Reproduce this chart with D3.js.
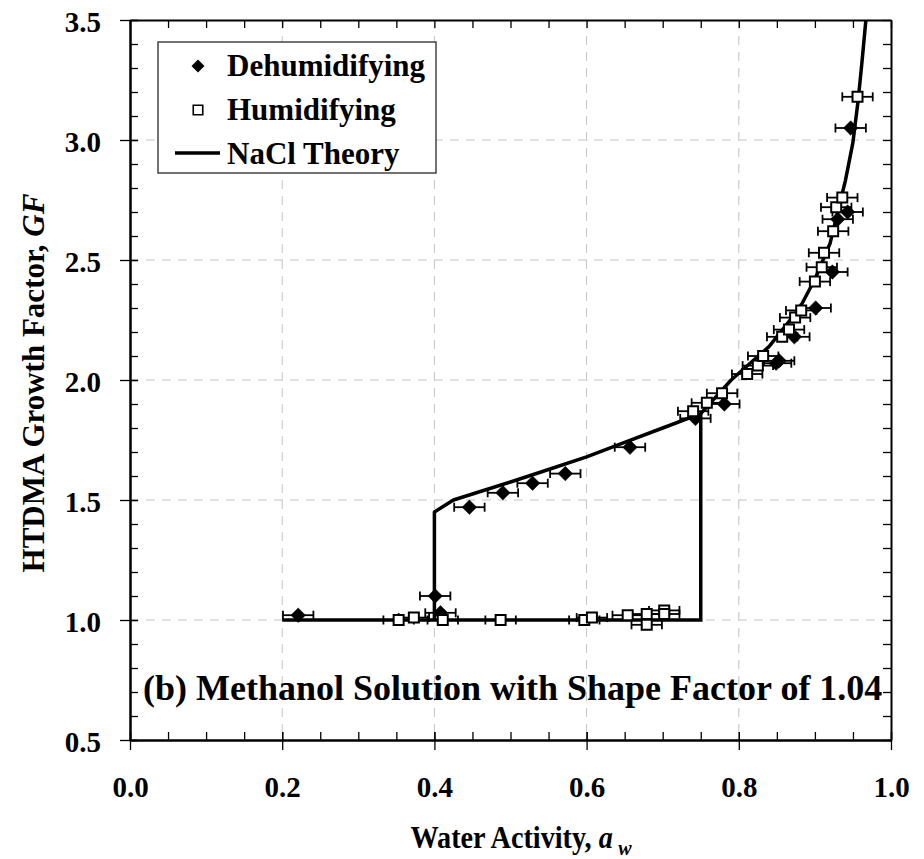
<!DOCTYPE html>
<html>
<head>
<meta charset="utf-8">
<script src="https://cdn.jsdelivr.net/npm/d3@7/dist/d3.min.js"></script>
<style>
  body { margin: 0; background: #fff; }
</style>
</head>
<body>
<div id="chart"></div>
<script>
// dehumidifying branch (filled diamonds)
const dehumAw = [0.221, 0.401, 0.408, 0.446, 0.490, 0.529, 0.572, 0.657, 0.743, 0.781,
                 0.849, 0.853, 0.873, 0.901, 0.923, 0.930, 0.943, 0.947];
const dehumGF = [1.02, 1.10, 1.03, 1.47, 1.53, 1.57, 1.61, 1.72, 1.84, 1.90,
                 2.07, 2.08, 2.18, 2.30, 2.45, 2.67, 2.70, 3.05];

// humidifying branch (open squares)
const humAw = [0.353, 0.373, 0.411, 0.487, 0.597, 0.607, 0.654, 0.679, 0.679, 0.702, 0.702,
               0.740, 0.758, 0.778, 0.811, 0.825, 0.832, 0.857, 0.866, 0.874, 0.882,
               0.900, 0.909, 0.912, 0.924, 0.928, 0.936, 0.956];
const humGF = [1.00, 1.01, 1.00, 1.00, 1.00, 1.01, 1.02, 1.025, 0.98, 1.04, 1.025,
               1.87, 1.905, 1.945, 2.025, 2.06, 2.10, 2.18, 2.21, 2.26, 2.29,
               2.41, 2.47, 2.53, 2.62, 2.72, 2.76, 3.18];

const awError = 0.02;

// NaCl theory: efflorescence branch + solution curve
const theoryAw = [0.40, 0.40, 0.425, 0.45, 0.50, 0.55, 0.60, 0.65, 0.70, 0.75, 0.79, 0.84,
                  0.88, 0.90, 0.92, 0.94, 0.95, 0.957, 0.962, 0.967, 0.972];
const theoryGF = [1.00, 1.45, 1.50, 1.525, 1.575, 1.627, 1.68, 1.74, 1.80, 1.86, 2.00, 2.14,
                  2.30, 2.42, 2.57, 2.83, 2.99, 3.17, 3.33, 3.50, 3.70];
// deliquescence branch
const delqAw = [0.20, 0.75, 0.75];
const delqGF = [1.00, 1.00, 1.86];

const xTicks = [0.0, 0.2, 0.4, 0.6, 0.8, 1.0];
const yTicks = [0.5, 1.0, 1.5, 2.0, 2.5, 3.0, 3.5];

const W = 924, H = 859;
const mLeft = 130, mRight = 891, mTop = 20, mBottom = 740;
const font = "'Liberation Serif', 'Times New Roman', serif";

const x = d3.scaleLinear().domain([0, 1]).range([mLeft, mRight]);
const y = d3.scaleLinear().domain([0.5, 3.5]).range([mBottom, mTop]);

const svg = d3.select("#chart").append("svg")
  .attr("width", W).attr("height", H)
  .style("font-family", font).style("font-weight", "bold");

svg.append("clipPath").attr("id", "plotClip")
  .append("rect").attr("x", mLeft).attr("y", mTop)
  .attr("width", mRight - mLeft).attr("height", mBottom - mTop);

// gridlines
svg.append("g").selectAll("line")
  .data(xTicks.slice(1, -1)).enter().append("line")
  .attr("x1", d => x(d)).attr("x2", d => x(d))
  .attr("y1", mTop).attr("y2", mBottom)
  .attr("stroke", "#c4c4c4").attr("stroke-width", 1).attr("stroke-dasharray", "9,7");
svg.append("g").selectAll("line")
  .data(yTicks.slice(1, -1)).enter().append("line")
  .attr("y1", d => y(d)).attr("y2", d => y(d))
  .attr("x1", mLeft).attr("x2", mRight)
  .attr("stroke", "#c4c4c4").attr("stroke-width", 1).attr("stroke-dasharray", "9,7");

// axes
const fmt = d3.format(".1f");
const minorX = d3.range(0, 1.0001, 0.05);
const minorY = d3.range(0.5, 3.5001, 0.1);

function styleAxis(g) {
  g.select(".domain").attr("stroke", "#000").attr("stroke-width", 2);
  g.selectAll(".tick line").attr("stroke", "#000").attr("stroke-width", 1.3);
}

svg.append("g").attr("transform", `translate(0,${mTop})`)
  .call(d3.axisTop(x).tickValues(minorX).tickFormat("").tickSizeInner(-8).tickSizeOuter(0))
  .call(styleAxis);
svg.append("g").attr("transform", `translate(${mRight},0)`)
  .call(d3.axisRight(y).tickValues(minorY).tickFormat("").tickSizeInner(-8).tickSizeOuter(0))
  .call(styleAxis);

svg.append("g").attr("transform", `translate(0,${mBottom})`)
  .call(d3.axisBottom(x).tickValues(minorX).tickFormat("").tickSizeInner(-8).tickSizeOuter(0))
  .call(styleAxis);
const xAxis = svg.append("g").attr("transform", `translate(0,${mBottom})`)
  .call(d3.axisBottom(x).tickValues(xTicks).tickFormat(fmt).tickSizeInner(10).tickSizeOuter(0))
  .call(styleAxis);
xAxis.selectAll(".tick line").attr("y1", -8);
xAxis.selectAll(".tick text").attr("y", 57).attr("dy", 0)
  .attr("fill", "#000").style("font-family", font).style("font-size", "29px").style("font-weight", "bold");

svg.append("g").attr("transform", `translate(${mLeft},0)`)
  .call(d3.axisLeft(y).tickValues(minorY).tickFormat("").tickSizeInner(-8).tickSizeOuter(0))
  .call(styleAxis);
const yAxis = svg.append("g").attr("transform", `translate(${mLeft},0)`)
  .call(d3.axisLeft(y).tickValues(yTicks).tickFormat(fmt).tickSizeInner(10).tickSizeOuter(0))
  .call(styleAxis);
yAxis.selectAll(".tick line").attr("x1", 8);
yAxis.selectAll(".tick text").attr("x", -29).attr("dy", "0.38em")
  .attr("fill", "#000").style("font-family", font).style("font-size", "29px").style("font-weight", "bold");

// theory lines
const plot = svg.append("g").attr("clip-path", "url(#plotClip)");
const line = d3.line().x(d => x(d[0])).y(d => y(d[1]));
plot.append("path")
  .datum(delqAw.map((a, i) => [a, delqGF[i]]))
  .attr("d", line).attr("fill", "none").attr("stroke", "#000").attr("stroke-width", 3.5);
plot.append("path")
  .datum(theoryAw.map((a, i) => [a, theoryGF[i]]))
  .attr("d", line).attr("fill", "none").attr("stroke", "#000").attr("stroke-width", 3.5)
  .attr("stroke-linejoin", "round");

// error bars + markers
function drawSeries(aw, gf, symbolType, size, rotate, fill, strokeW) {
  const data = aw.map((a, i) => ({ a: a, g: gf[i] }));
  const gErr = plot.append("g").attr("stroke", "#000").attr("stroke-width", 1.8);
  gErr.selectAll(".bar").data(data).enter().append("line")
    .attr("x1", d => x(d.a - awError)).attr("x2", d => x(d.a + awError))
    .attr("y1", d => y(d.g)).attr("y2", d => y(d.g));
  gErr.selectAll(".capL").data(data).enter().append("line")
    .attr("x1", d => x(d.a - awError)).attr("x2", d => x(d.a - awError))
    .attr("y1", d => y(d.g) - 4.5).attr("y2", d => y(d.g) + 4.5);
  gErr.selectAll(".capR").data(data).enter().append("line")
    .attr("x1", d => x(d.a + awError)).attr("x2", d => x(d.a + awError))
    .attr("y1", d => y(d.g) - 4.5).attr("y2", d => y(d.g) + 4.5);
  plot.append("g").selectAll("path").data(data).enter().append("path")
    .attr("d", d3.symbol(symbolType, size))
    .attr("transform", d => `translate(${x(d.a)},${y(d.g)}) rotate(${rotate})`)
    .attr("fill", fill).attr("stroke", "#000").attr("stroke-width", strokeW);
}
drawSeries(dehumAw, dehumGF, d3.symbolSquare, 105, 45, "#000", 0.5);
drawSeries(humAw, humGF, d3.symbolSquare, 100, 0, "#fff", 2);

// legend
const lg = svg.append("g");
lg.append("rect").attr("x", 158).attr("y", 42).attr("width", 278).attr("height", 131)
  .attr("fill", "#fff").attr("stroke", "#444").attr("stroke-width", 1.5);
lg.append("path").attr("d", d3.symbol(d3.symbolSquare, 84))
  .attr("transform", "translate(198,66) rotate(45)").attr("fill", "#000");
lg.append("path").attr("d", d3.symbol(d3.symbolSquare, 90))
  .attr("transform", "translate(198,110)").attr("fill", "#fff").attr("stroke", "#000").attr("stroke-width", 1.6);
lg.append("line").attr("x1", 175).attr("x2", 220).attr("y1", 153).attr("y2", 153)
  .attr("stroke", "#000").attr("stroke-width", 3.5);
const legendNames = ["Dehumidifying", "Humidifying", "NaCl Theory"];
lg.selectAll("text").data(legendNames).enter().append("text")
  .attr("x", 227).attr("y", (d, i) => 76 + i * 44)
  .style("font-size", "31px").text(d => d);

// annotation
svg.append("text").attr("x", 143).attr("y", 700)
  .style("font-size", "36px")
  .text("(b) Methanol Solution with Shape Factor of 1.04");

// axis titles
const xt = svg.append("text").attr("transform", "translate(521,848) scale(0.91,1)")
  .attr("text-anchor", "middle").style("font-size", "31px");
xt.append("tspan").text("Water Activity, ");
xt.append("tspan").style("font-style", "italic").text("a");
xt.append("tspan").style("font-style", "italic").style("font-size", "22px")
  .attr("dx", 6).attr("dy", 7).text("w");

const yt = svg.append("text")
  .attr("transform", "translate(44,383) rotate(-90)")
  .attr("text-anchor", "middle").style("font-size", "31px");
yt.append("tspan").text("HTDMA Growth Factor, ");
yt.append("tspan").style("font-style", "italic").text("GF");
</script>
</body>
</html>
